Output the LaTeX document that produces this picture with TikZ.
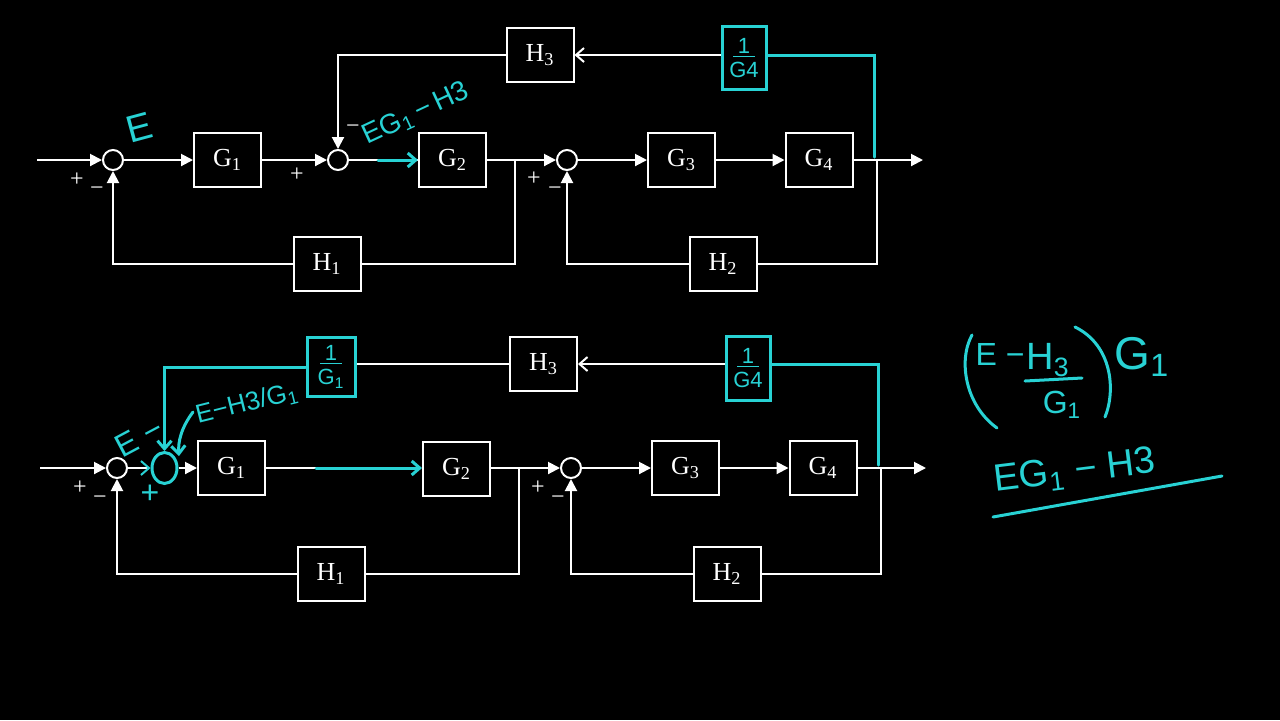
\documentclass[tikz,border=0pt]{standalone}
\usepackage{fontspec}
\setmainfont{Liberation Serif}
\newfontfamily\handfont{Liberation Sans}
\usetikzlibrary{arrows.meta,positioning,calc,shapes.geometric}
\definecolor{penc}{RGB}{40,210,212}
\tikzset{
  blk/.style  ={draw=white, line width=1pt, fill=black, text=white,
                minimum width=33.5pt, minimum height=27pt, inner sep=0pt,
                font=\fontsize{13}{15}\selectfont},
  sumj/.style ={draw=white, line width=1pt, circle, minimum size=10pt, inner sep=0pt},
  wire/.style ={draw=white, line width=1pt},
  flow/.style ={wire, -{Triangle[length=6pt,width=6pt]}},
  bflow/.style={wire, -{Straight Barb[length=4pt,width=7pt]}},
  pen/.style  ={draw=penc, line width=1.5pt, line cap=round},
  pflow/.style={pen, -{Straight Barb[length=4pt,width=7pt]}},
  hbox/.style ={draw=penc, line width=1.5pt, text=penc, align=center, inner sep=1pt,
                font=\handfont\fontsize{11}{12}\selectfont},
  hsum/.style ={draw=penc, line width=1.5pt, ellipse, minimum width=12.5pt,
                minimum height=15.5pt, inner sep=0pt},
  lbl/.style  ={text=white, font=\fontsize{12}{14}\selectfont, inner sep=0pt},
  note/.style ={text=penc, font=\handfont\fontsize{14}{16}\selectfont, inner sep=0pt},
}

\begin{document}
\begin{tikzpicture}[x=0.5pt, y=-0.5pt]

\fill[black] (0,0) rectangle (1280,720);

\node[sumj] (s1a) at (113,160) {};
\node[blk] (g1a) at (227.5,160) {G\textsubscript{1}};
\node[sumj] (s2a) at (338,160) {};
\node[blk] (g2a) at (452.5,160) {G\textsubscript{2}};
\node[sumj] (s3a) at (567,160) {};
\node[blk] (g3a) at (681.5,160) {G\textsubscript{3}};
\node[blk] (g4a) at (819,160) {G\textsubscript{4}};
\node[blk] (h1a) at (327,264) {H\textsubscript{1}};
\node[blk] (h2a) at (723,264) {H\textsubscript{2}};
\node[blk] (h3a) at (540,55) {H\textsubscript{3}};
\node[hbox, minimum width=22pt, minimum height=31.5pt] (ig4a) at (744,58)
  {\underline{\makebox[11pt]{1}}\\G4};
\coordinate (ina) at (37,160);
\coordinate (ja) at (515,160);
\coordinate (ka) at (877,160);
\coordinate (outa) at (923,160);
\coordinate (ca) at (378,160);

\draw[flow] (ina) -- (s1a);
\draw[flow] (s1a) -- (g1a);
\draw[flow] (g1a) -- (s2a);
\draw[wire] (s2a) -- (g2a);
\draw[flow] (g2a) -- (s3a);
\draw[flow] (s3a) -- (g3a);
\draw[flow] (g3a) -- (g4a);
\draw[flow] (g4a) -- (outa);
\draw[wire] (ja) |- (h1a);
\draw[flow] (h1a) -| (s1a);
\draw[wire] (ka) |- (h2a);
\draw[flow] (h2a) -| (s3a);
\draw[flow] (h3a) -| (s2a);
\draw[bflow] (ig4a.west |- h3a) -- (h3a);
\draw[pen] (ig4a.east |- h3a) -| ($(ka)+(-3,-3)$);
\draw[pflow] (ca) -- (g2a);

\node[lbl] (p1a) at (77,180) {+};
\node[lbl] (m1a) at (97,191) {−};
\node[lbl] (p2a) at (297,175) {+};
\node[lbl] (m2a) at (353,129) {−};
\node[lbl] (p3a) at (534,179) {+};
\node[lbl] (m3a) at (555,191) {−};
\node[note, rotate=15, font=\handfont\fontsize{19}{20}\selectfont] (ea) at (139,128) {E};
\node[note, rotate=25] (ega) at (416,114) {EG\textsubscript{1}\,−\,H3};

\node[sumj] (s1b) at (117,468) {};
\node[hsum] (hsb) at (164.5,468) {};
\node[blk] (g1b) at (231.5,468) {G\textsubscript{1}};
\node[blk] (g2b) at (456.5,469) {G\textsubscript{2}};
\node[sumj] (s3b) at (571,468) {};
\node[blk] (g3b) at (685.5,468) {G\textsubscript{3}};
\node[blk] (g4b) at (823,468) {G\textsubscript{4}};
\node[blk] (h1b) at (331,574) {H\textsubscript{1}};
\node[blk] (h2b) at (727,574) {H\textsubscript{2}};
\node[blk] (h3b) at (543.5,364) {H\textsubscript{3}};
\node[hbox, minimum width=24pt, minimum height=29.5pt] (ig1b) at (331,367)
  {\underline{\makebox[11pt]{1}}\\G\textsubscript{1}};
\node[hbox, minimum width=22pt, minimum height=32pt] (ig4b) at (748,368)
  {\underline{\makebox[11pt]{1}}\\G4};
\coordinate (inb) at (40,468);
\coordinate (mb) at (316,468);
\coordinate (jb) at (519,468);
\coordinate (kb) at (881,468);
\coordinate (outb) at (926,468);
\coordinate (cfrom) at (193,412);
\coordinate (cto) at (179,456);

\draw[flow] (inb) -- (s1b);
\draw[wire, -{Straight Barb[length=4pt,width=7pt,color=penc]}] (s1b) -- (hsb);
\draw[flow] (hsb) -- (g1b);
\draw[wire] (g1b) -- (mb);
\draw[pflow] (mb) -- (g2b.west |- mb);
\draw[flow] (g2b.east |- jb) -- (s3b);
\draw[flow] (s3b) -- (g3b);
\draw[flow] (g3b) -- (g4b);
\draw[flow] (g4b) -- (outb);
\draw[wire] (jb) |- (h1b);
\draw[flow] (h1b) -| (s1b);
\draw[wire] (kb) |- (h2b);
\draw[flow] (h2b) -| (s3b);
\draw[wire] (h3b) -- (ig1b.east |- h3b);
\draw[bflow] (ig4b.west |- h3b) -- (h3b);
\draw[pen] (ig4b.east |- h3b) -| ($(kb)+(-3,-3)$);
\draw[pflow] (ig1b.west) -| (hsb.north);
\draw[pflow] (cfrom) .. controls (181,428) and (178,442) .. (cto);

\node[lbl] (p1b) at (80,488) {+};
\node[lbl] (m1b) at (100,500) {−};
\node[lbl] (p3b) at (538,488) {+};
\node[lbl] (m3b) at (558,500) {−};
\node[note, rotate=28, font=\handfont\fontsize{16}{18}\selectfont] (eb) at (139,437) {E −};
\node[note, font=\handfont\fontsize{16}{18}\selectfont] (pb) at (150,494) {+};
\node[note, rotate=14, font=\handfont\fontsize{13}{15}\selectfont] (ehb) at (247,404)
  {E−H3/G\textsubscript{1}};

\node[note, font=\handfont\fontsize{16}{18}\selectfont] (re) at (1000,354) {E −};
\node[note, font=\handfont\fontsize{19}{20}\selectfont] (rh) at (1048,360) {H\textsubscript{3}};
\node[note, font=\handfont\fontsize{16}{18}\selectfont] (rg) at (1062,405) {G\textsubscript{1}};
\node[note, font=\handfont\fontsize{23}{25}\selectfont] (rgg) at (1142,357) {G\textsubscript{1}};
\node[note, rotate=7, font=\handfont\fontsize{19}{20}\selectfont] (req) at (1075,472)
  {EG\textsubscript{1} − H3};
\draw[pen] (1025,381) -- (1082,378);
\draw[pen] (972,335) .. controls (958,360) and (965,405) .. (997,428);
\draw[pen] (1075,327) .. controls (1112,345) and (1116,390) .. (1105,417);
\draw[pen] (993,517) -- (1222,476);

\end{tikzpicture}
\end{document}
